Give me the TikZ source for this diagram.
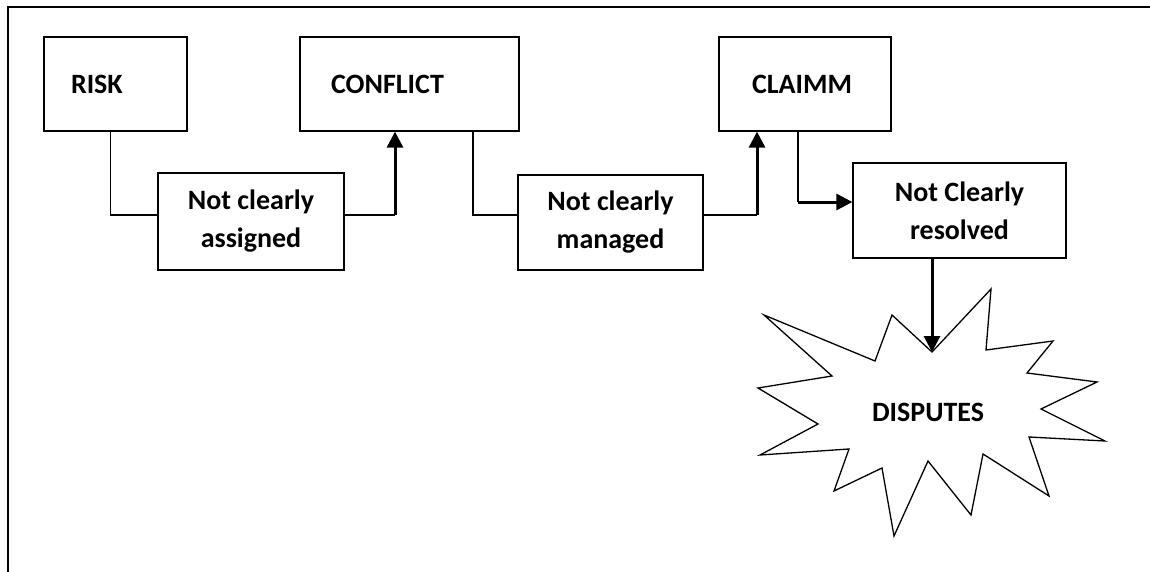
\documentclass[tikz,border=0pt]{standalone}
\usepackage{fontspec}
\setmainfont{Carlito}
\usetikzlibrary{arrows.meta}
\begin{document}
\begin{tikzpicture}[x=1pt,y=-1pt,
  font=\fontsize{28}{38}\selectfont\bfseries,
  box/.style={draw, line width=1.3pt, inner sep=0pt, minimum height=94pt, align=left},
  lbox/.style={draw, line width=1.3pt, align=center, inner sep=0pt},
  thinline/.style={line width=1.3pt},
  bigarrow/.style={line width=3pt, -{Triangle[length=16pt,width=16pt]}}]
\useasboundingbox (0,0) rectangle (1150,572);
\draw[line width=2pt] (1150,7) -- (8,7) -- (8,572);

\node[box, text width=89pt, inner xsep=27pt] (risk) at (115.5,84) {RISK};
\node[box, text width=157pt, inner xsep=31pt] (conflict) at (409.5,84) {CONFLICT};
\node[box, text width=106pt, inner xsep=33pt] (claim) at (805,84) {CLAIMM};

\node[lbox, minimum width=186pt, minimum height=97pt] (assigned) at (251,221.5) {Not clearly\\assigned};
\node[lbox, minimum width=185pt, minimum height=95pt] (managed) at (610.5,222.5) {Not clearly\\managed};
\node[lbox, minimum width=213pt, minimum height=95pt] (resolved) at (959.5,210.5) {Not Clearly\\resolved};

\draw[line width=1.3pt, line join=miter]
  (932,352) -- (991,289) -- (986,350) -- (1053,341) -- (1027,373) -- (1097,382)
  -- (1041,409) -- (1105,441) -- (1029,437) -- (1049,496) -- (983,454) -- (971,515)
  -- (928,461) -- (894,536) -- (882,468) -- (834,491) -- (849,449) -- (760,455)
  -- (818,424) -- (758,388) -- (832,376) -- (764,315) -- (875,361) -- (892,315) -- cycle;
\coordinate (startop) at (932,352);
\node (disputes) at (928,412) {DISPUTES};

\coordinate (j1) at (395,215);
\coordinate (k2) at (473,215);
\coordinate (j2) at (757,215);
\coordinate (k3) at (798,202);

\draw[thinline] ([xshift=-5pt]risk.south) |- (assigned.west |- j1);
\draw[thinline] (assigned.east |- j1) -- (j1);
\draw[bigarrow] (j1) -- (conflict.south -| j1);

\draw[thinline] (conflict.south -| k2) |- (managed.west |- k2);
\draw[thinline] (managed.east |- j2) -- (j2);
\draw[bigarrow] (j2) -- (claim.south -| j2);

\draw[thinline] (claim.south -| k3) -- (k3);
\draw[bigarrow] (k3) -- (resolved.west |- k3);

\draw[bigarrow] (resolved.south -| startop) -- (startop);
\end{tikzpicture}
\end{document}
